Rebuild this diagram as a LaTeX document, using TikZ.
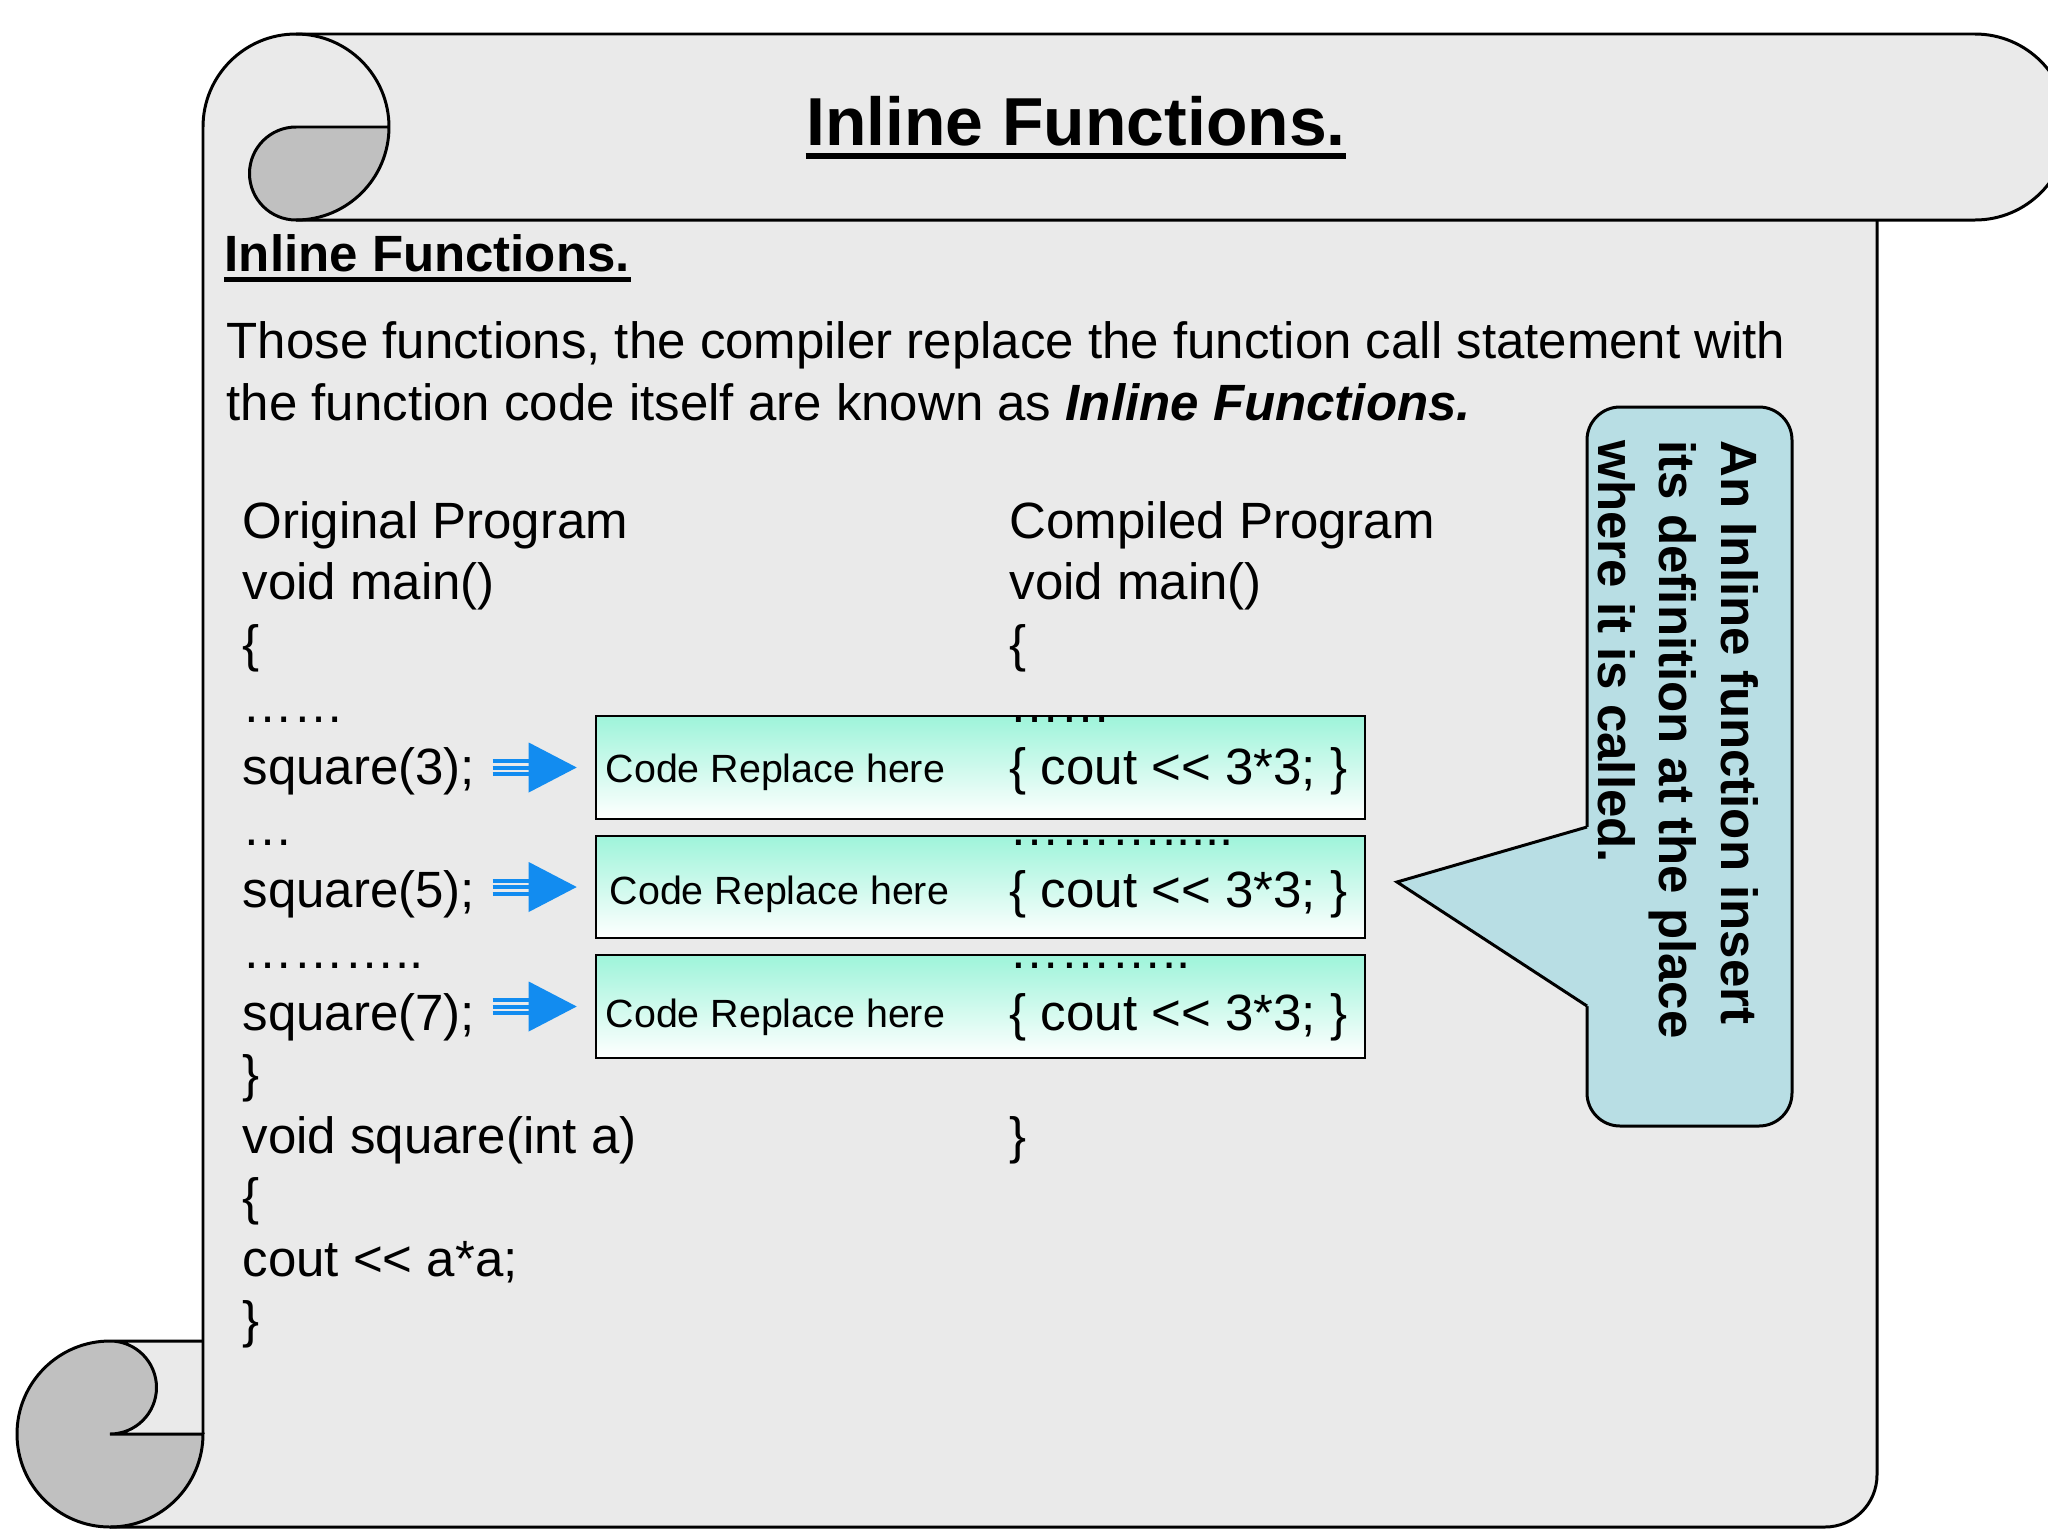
\documentclass[tikz,border=0pt]{standalone}
\usepackage{fontspec}
\usepackage{xcolor}
\usepackage{tikz}
\usetikzlibrary{calc}
\newfontfamily\arialfont{Liberation Sans}
\definecolor{paper}{RGB}{234,234,234}
\definecolor{curlshade}{RGB}{192,192,192}
\definecolor{mint}{RGB}{158,244,218}
\definecolor{callblue}{RGB}{18,140,240}
\definecolor{notefill}{RGB}{184,222,228}

\begin{document}
\begin{tikzpicture}[
  x=0.01cm, y=0.01cm,
  every node/.style={font=\arialfont, inner sep=0pt},
  scroll/.style={draw=black, line width=0.85pt},
  codeline/.style={anchor=base west, font=\arialfont\fontsize{14.5}{17.5}\selectfont},
  repbox/.style={rectangle, draw=black, line width=0.6pt, top color=mint,
                 bottom color=white, minimum width=7.69cm, minimum height=1.025cm},
  reptext/.style={anchor=base west, font=\arialfont\fontsize{11.2}{13.5}\selectfont},
  notetext/.style={align=left, font=\arialfont\bfseries\fontsize{14.5}{17.5}\selectfont},
  uline/.style={line width=0.055cm}
]
\fill[white] (0,0) rectangle (2048,-1536);
\useasboundingbox (0,0) rectangle (2048,-1536);
% Scroll paper
\fill[paper] (203,-127) arc[start angle=180, end angle=90, radius=93]
  -- (1975,-34) arc[start angle=90, end angle=-90, radius=93]
  -- (1877,-220) -- (1877,-1475) arc[start angle=0, end angle=-90, radius=52]
  -- (110,-1527) arc[start angle=-90, end angle=-270, radius=93]
  -- (203,-1341) -- cycle;
\fill[curlshade] (296,-127) -- (389,-127) arc[start angle=0, end angle=-90, radius=93]
  arc[start angle=-90, end angle=-270, radius=46.5] -- cycle;
\fill[curlshade] (110,-1434) -- (203,-1434) arc[start angle=0, end angle=-270, radius=93]
  arc[start angle=90, end angle=-90, radius=46.5] -- cycle;
\draw[scroll] (203,-1434) -- (203,-127) arc[start angle=180, end angle=-90, radius=93]
  arc[start angle=-90, end angle=-270, radius=46.5] -- (389,-127);
\draw[scroll] (296,-34) -- (1975,-34) arc[start angle=90, end angle=-90, radius=93] -- (296,-220);
\draw[scroll] (1877,-220) -- (1877,-1475) arc[start angle=0, end angle=-90, radius=52] -- (110,-1527);
\draw[scroll] (203,-1341) -- (110,-1341) arc[start angle=90, end angle=-90, radius=46.5]
  -- (203,-1434) arc[start angle=0, end angle=-270, radius=93];
% Headings
\node[anchor=base, font=\arialfont\bfseries\fontsize{19.3}{23}\selectfont] (title) at (1076,-145) {Inline Functions.};
\draw[uline] ($(title.base west)+(0,-11)$) -- ($(title.base east)+(0,-11)$);
\node[anchor=base west, font=\arialfont\bfseries\fontsize{14.5}{17.5}\selectfont] (sub) at (224,-271) {Inline Functions.};
\draw[uline, line width=0.05cm] ($(sub.base west)+(0,-8.5)$) -- ($(sub.base east)+(0,-8.5)$);
\node[codeline] (para1) at (226,-358) {Those functions, the compiler replace the function call statement with};
\node[codeline] (para2) at (226,-420) {the function code itself are known as \textbf{\textit{Inline Functions.}}};
% Replaced code boxes
\node[repbox] (box1) at (980.5,-767.5) {};
\node[repbox] (box2) at (980.5,-887) {};
\node[repbox] (box3) at (980.5,-1006.5) {};
\node[reptext] (rep1) at (605,-782) {Code Replace here};
\node[reptext] (rep2) at (609,-904) {Code Replace here};
\node[reptext] (rep3) at (605,-1027) {Code Replace here};
% Original program
\foreach \txt [count=\n] in {Original Program, void main(), \{, {……}, square(3);, {…}, square(5);,
    {………..}, square(7);, \}, void square(int a), \{, cout << a*a;, \}}
  \node[codeline] (l\n) at (242,{-538-61.5*(\n-1)}) {\txt};
% Compiled program
\foreach \n/\txt in {1/Compiled Program, 2/void main(), 3/\{, 4/{……}, 5/{\{ cout << 3*3; \}},
    6/{……….....}, 7/{\{ cout << 3*3; \}}, 8/{………..}, 9/{\{ cout << 3*3; \}}, 11/\}}
  \node[codeline] (r\n) at (1009,{-538-61.5*(\n-1)}) {\txt};
% Arrows from calls to boxes
\foreach \i in {1,2,3}{
  \coordinate (tip\i) at ($(box\i.west)+(-18,0)$);
  \fill[callblue] (tip\i) -- ++(-48,25) -- ++(0,-50) -- cycle;
  \foreach \dy in {-6.5,0,6.5}
    \draw[callblue, line width=0.04cm] ($(tip\i)+(-84,\dy)$) -- ++(37,0);
}
% Callout
\coordinate (ptip) at (1397,-882);
\draw[fill=notefill, line width=0.85pt, rounded corners=0.33cm] (1587,-407) rectangle (1792,-1126);
\fill[notefill] (ptip) -- (1587,-827) -- (1591,-827) -- (1591,-1006) -- (1587,-1006) -- cycle;
\draw[line width=0.85pt] (1587,-827) -- (ptip) -- (1587,-1006);
\node[notetext, rotate=-90, anchor=north west] (note) at (1759,-440)
  {An Inline function insert\\its definition at the place\\where it is called.};
\end{tikzpicture}
\end{document}
